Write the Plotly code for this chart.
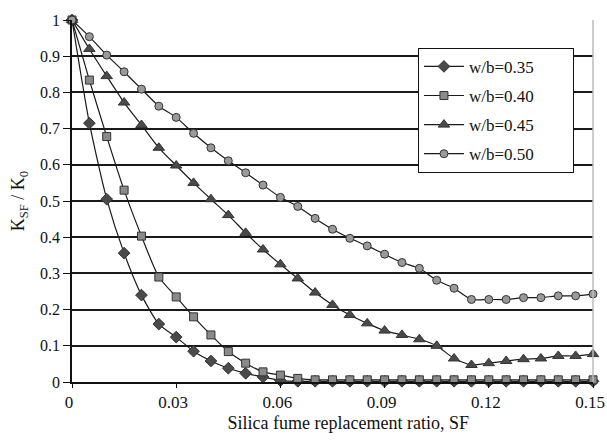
import plotly.graph_objects as go

sf = [round(i * 0.005, 3) for i in range(31)]

wb035 = [1, 0.715, 0.505, 0.356, 0.24, 0.16, 0.124, 0.085, 0.058, 0.038, 0.024, 0.014, 0.004,
         0.002, 0.002, 0.002, 0.002, 0.002, 0.002, 0.002, 0.002, 0.002, 0.002, 0.002, 0.002,
         0.002, 0.002, 0.002, 0.002, 0.002, 0.002]
wb040 = [1, 0.834, 0.678, 0.53, 0.403, 0.29, 0.235, 0.18, 0.13, 0.084, 0.052, 0.028, 0.019,
         0.01, 0.006, 0.006, 0.006, 0.006, 0.006, 0.006, 0.006, 0.006, 0.006, 0.006, 0.006,
         0.006, 0.006, 0.006, 0.006, 0.006, 0.006]
wb045 = [1, 0.92, 0.845, 0.772, 0.71, 0.647, 0.598, 0.55, 0.505, 0.461, 0.412, 0.366, 0.325,
         0.286, 0.247, 0.213, 0.185, 0.162, 0.142, 0.13, 0.118, 0.1, 0.065, 0.047, 0.052,
         0.058, 0.063, 0.065, 0.072, 0.072, 0.077]
wb050 = [1, 0.954, 0.903, 0.857, 0.809, 0.762, 0.731, 0.687, 0.647, 0.611, 0.578, 0.544, 0.51,
         0.485, 0.452, 0.422, 0.397, 0.376, 0.353, 0.33, 0.314, 0.281, 0.259, 0.228, 0.228,
         0.228, 0.233, 0.233, 0.238, 0.238, 0.243]

names = ["w/b=0.35", "w/b=0.40", "w/b=0.45", "w/b=0.50"]
series = [wb035, wb040, wb045, wb050]
symbols = ["diamond", "square", "triangle-up", "circle"]
sizes = [9, 8, 10, 8]
fills = ["#4a4a4a", "#8a8a8a", "#4a4a4a", "#9a9a9a"]

x_ticks = [0, 0.03, 0.06, 0.09, 0.12, 0.15]
x_labels = ["0", "0.03", "0.06", "0.09", "0.12", "0.15"]
y_ticks = [0, 0.1, 0.2, 0.3, 0.4, 0.5, 0.6, 0.7, 0.8, 0.9, 1]
y_labels = ["0", "0.1", "0.2", "0.3", "0.4", "0.5", "0.6", "0.7", "0.8", "0.9", "1"]

FONT = "Liberation Serif, Times New Roman, serif"
NB = "\u00a0"
ZW = "\u200b"

fig = go.Figure()
for i, (nm, ys) in enumerate(zip(names, series)):
    fig.add_trace(go.Scatter(
        x=sf, y=ys, name=nm + NB * 8, mode="lines+markers",
        line=dict(color="#1a1a1a", width=1.2, shape="spline", smoothing=0.6),
        marker=dict(symbol=symbols[i], size=sizes[i], color=fills[i],
                    line=dict(color="#333333", width=1)),
        cliponaxis=False, legendgroup=f"g{i}",
    ))

fig.update_layout(
    width=607, height=443,
    margin=dict(l=72, r=14, t=20, b=61, autoexpand=False),
    paper_bgcolor="white", plot_bgcolor="white",
    font=dict(family=FONT, size=15, color="#111"),
    showlegend=True,
    legend=dict(x=0.664, y=0.923, xanchor="left", yanchor="top",
                bgcolor="white", bordercolor="#111", borderwidth=1,
                font=dict(family=FONT, size=17, color="#111"),
                tracegroupgap=4, itemwidth=40),
    shapes=[dict(type="line", xref="paper", yref="paper", x0=1, x1=1, y0=0, y1=1,
                 line=dict(color="#bdbdbd", width=1.5))],
)
fig.update_xaxes(
    range=[0, 0.15], tickvals=x_ticks, ticktext=x_labels, automargin=False,
    showgrid=False, zeroline=False, showline=True, linecolor="#111", linewidth=1.5,
    ticks="outside", ticklen=4, tickcolor="#111",
    tickfont=dict(family=FONT, size=17), ticklabeloverflow="allow", ticklabelshift=-3,
    title=dict(text=ZW + NB * 7 + "Silica fume replacement ratio, SF",
               font=dict(family=FONT, size=18), standoff=5),
)
fig.update_yaxes(
    range=[0, 1], tickvals=y_ticks, ticktext=y_labels, automargin=False,
    showgrid=True, gridcolor="#1a1a1a", gridwidth=1.5, zeroline=False,
    showline=True, linecolor="#111", linewidth=1.5,
    ticks="outside", ticklen=7, tickcolor="#111",
    tickfont=dict(family=FONT, size=16),
    title=dict(text="K<sub>SF</sub> / K<sub>0</sub>", font=dict(family=FONT, size=18), standoff=11),
)

fig.write_html("out.html", config={"displayModeBar": False},
               post_script="document.body.style.margin='0';document.body.style.overflow='hidden';")
